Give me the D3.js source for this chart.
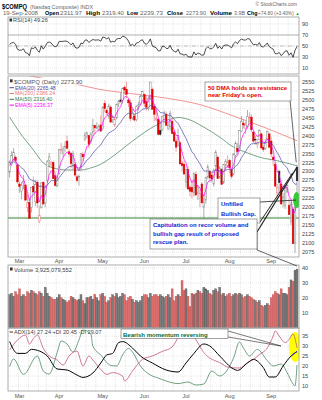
<!DOCTYPE html>
<html><head><meta charset="utf-8">
<script src="https://cdn.jsdelivr.net/npm/d3@7"></script>
<style>body{margin:0;background:#fff}svg{display:block;font-family:"Liberation Sans",Arial,sans-serif}</style>
</head><body><svg id="c" width="322" height="400"></svg>
<script>
// ---------- DATA ----------
const holidays=["2008-03-21","2008-05-26","2008-07-04","2008-09-01"];
const priorCloses=[2292,2316,2361,2326,2349,2358,2349,2390,2413,2382,2309,2278,2293,2304,2320,2321,2373,2332,2321,2306,2327,2300,2303];
const opens=[2298,2320,2334,2340,2318,2265,2245,2268,2262,2200,2214,2200,2258,2216,2270,2160,2200,2270,2212,2275,2330,2320,2325,2288,2260,
2295,2360,2350,2370,2385,2355,2350,2315,2320,2285,2285,2305,2348,2390,2398,2400,2385,2410,2428,2420,2418,2430,
2420,2490,2470,2455,2480,2445,2430,2450,2490,2500,2498,2535,2530,2500,2492,2450,2455,2445,2485,2488,2512,
2515,2495,2475,2505,2530,2482,2445,2445,2415,2418,2440,2460,2420,2425,2440,2410,2385,2372,2380,2322,2320,
2270,2305,2255,2255,2240,2292,2240,2225,2265,2200,2220,2285,2300,2290,2265,2315,2340,2285,2305,2270,2320,2315,
2330,2305,2295,2345,2365,2360,2412,2435,2420,2425,2450,2452,2410,2390,2375,2390,2405,2368,2365,2390,2405,
2385,2340,2320,2240,2300,2265,2215,2205,2245,2205,2160,2195,2100,2312];
const highs=[2331,2357,2365,2345,2322,2272,2270,2290,2265,2236,2227,2255,2286,2277,2275,2205,2269,2272,2262,2332,2352,2330,2330,2300,2290,
2363,2380,2372,2385,2400,2362,2355,2358,2325,2292,2292,2352,2355,2410,2412,2402,2410,2447,2430,2437,2432,2457,
2482,2499,2475,2490,2485,2458,2452,2490,2500,2520,2534,2540,2551,2505,2500,2475,2460,2485,2495,2515,2526,
2518,2510,2512,2551,2535,2490,2470,2450,2440,2456,2470,2468,2435,2470,2448,2415,2395,2420,2385,2330,2330,
2306,2315,2262,2275,2297,2300,2262,2250,2270,2235,2285,2320,2305,2295,2308,2360,2345,2315,2310,2320,2335,2345,
2335,2310,2350,2385,2380,2416,2455,2445,2440,2472,2465,2460,2415,2400,2390,2418,2408,2375,2390,2415,2408,
2398,2345,2325,2265,2305,2275,2240,2260,2265,2225,2215,2200,2214,2319];
const lows=[2283,2315,2330,2320,2266,2240,2222,2250,2218,2187,2168,2185,2240,2203,2198,2155,2196,2209,2200,2270,2312,2310,2280,2258,2255,
2290,2350,2340,2355,2362,2340,2310,2305,2285,2270,2260,2302,2330,2385,2392,2365,2380,2400,2405,2418,2412,2410,
2415,2465,2458,2448,2438,2435,2425,2445,2480,2492,2490,2515,2505,2480,2440,2445,2440,2440,2470,2485,2508,
2480,2470,2470,2500,2474,2440,2440,2402,2400,2412,2435,2428,2415,2415,2405,2383,2355,2370,2320,2300,2290,
2255,2250,2230,2225,2230,2234,2220,2200,2212,2167,2210,2278,2270,2270,2258,2310,2278,2280,2262,2265,2305,2310,
2295,2280,2290,2340,2350,2355,2410,2420,2405,2420,2440,2410,2380,2375,2365,2388,2362,2355,2360,2388,2365,
2340,2315,2258,2220,2240,2208,2200,2195,2240,2179,2150,2097,2072,2240];
const closes=[2327,2344,2353,2331,2271,2258,2260,2272,2220,2212,2169,2255,2243,2263,2212,2177,2268,2209,2258,2327,2341,2324,2280,2261,2279,
2362,2361,2363,2370,2365,2349,2322,2351,2290,2275,2286,2350,2341,2402,2408,2376,2405,2429,2422,2424,2426,2413,
2480,2476,2464,2483,2438,2451,2445,2488,2495,2496,2533,2528,2516,2492,2448,2464,2444,2481,2486,2509,2523,
2491,2480,2503,2550,2474,2460,2448,2404,2404,2454,2457,2429,2429,2462,2406,2385,2368,2401,2321,2316,2293,
2305,2251,2245,2243,2294,2234,2257,2239,2212,2215,2284,2313,2282,2279,2304,2354,2280,2310,2264,2319,2329,2326,
2310,2286,2349,2378,2356,2414,2440,2430,2429,2453,2452,2417,2385,2389,2380,2414,2366,2361,2382,2412,2368,
2349,2333,2259,2255,2269,2209,2228,2258,2261,2179,2207,2098,2199,2274];
const volumes=[22,23,21,24,22,26,21,22,21,24,23,25,24,23,22,24,23,21,27,23,21,20,19,19,20,
22,20,19,18,17,18,21,20,19,18,19,22,18,16,20,20,21,19,22,20,18,22,
23,21,17,18,20,22,21,23,20,21,23,22,18,20,21,19,17,18,17,18,21,
22,22,20,23,21,22,22,21,22,21,20,21,22,20,26,18,21,22,21,31.5,25,
26,21,14,23,22,23,25,24,23,27,26,25,23,22,25,26,24,27,22,23,21,22,
23,21,22,23,22,23,22,20,21,22,21,20,19,18,17,18,15,14,15,16,15,
20,22,24,23,22,26,23,23,22,27,32,31,38.5,39.25];
const ma50Pts=[[0,2452],[5,2410],[12,2360],[17,2324],[22,2310],[29,2304],[36,2304],[41,2310],[46,2320],[51,2338],[62,2385],[71,2420],[76,2435],[85,2451],[90,2446],[98,2424],[106,2396],[113,2368],[120,2352],[126,2340],[135,2330],[145,2316]];
const ma200Pts=[[0,2580],[17,2560],[33,2545],[45,2530],[61,2518],[78,2506],[96,2487],[113,2455],[130,2420],[145,2386]];
const adxPts=[[0,32.2],[4,26.3],[8,26.3],[11,28.3],[15,27.5],[19,25],[24,18.5],[29,18],[34,15.5],[37,14.3],[42,16.5],[46,21.5],[49,25.5],[52,26.3],[55,31.7],[57,32.2],[62,29],[66,25],[72,21.5],[79,18],[85,17],[89,21.5],[93,26.3],[98,31],[101,30],[106,25],[113,18.5],[115,17.8],[120,21.5],[123,23.3],[128,19.2],[131,14.5],[134,14.5],[138,20],[142,25],[145,27.24]];
const plusDiPts=[[0,19.7],[2,23.5],[7,15.8],[14,25],[17,17.5],[20,16],[24,26.7],[26,32.5],[29,31],[32,27],[35,33],[37,38],[41,36],[42,30],[46,25.5],[51,20.3],[54,20],[57,25.5],[60,28.8],[62,27],[66,20],[71,15.5],[75,14],[79,12.5],[85,11.2],[90,12],[94,10.5],[98,11],[102,17.5],[106,15],[113,24],[116,32],[118,29],[121,25],[125,28.3],[130,22.7],[133,20],[137,21],[140,16.7],[143,11],[144,10],[145,20.45]];
const minusDiPts=[[0,28],[4,33],[8,35.5],[10,31],[12,33.7],[14,35.5],[17,28.8],[20,25],[24,23],[27,20.5],[30,25],[34,27.5],[37,20],[40,25],[42,23],[46,18.3],[49,15.8],[52,16.7],[57,15],[58,12.5],[62,17.5],[67,23.3],[72,25],[77,27.3],[82,29.5],[86,35.8],[87,37],[89,34],[91,36.7],[95,31.5],[98,26.7],[101,24],[106,21.7],[111,19.2],[116,19],[120,21.7],[123,23.3],[126,25.7],[130,29],[133,35],[134,37.5],[136,35],[139,31.7],[141,33.3],[143,36],[145,29.07]];
const priceTicks=[2075,2100,2125,2150,2175,2200,2225,2250,2275,2300,2325,2350,2375,2400,2425,2450,2475,2500,2525,2550];
const rsiTicks=[90,70,50,30,10];
const volTicks=[10,20,30,40];
const adxTicks=[10,15,20,25,30,35];
const monthNames=["Mar","Apr","May","Jun","Jul","Aug","Sep"];
const supportLevel=2170, gapLevel=2220;

// ---------- DATES ----------
const fmt=d3.timeFormat("%Y-%m-%d");
const dates=d3.timeDay.range(new Date(2008,1,25),new Date(2008,8,20)).filter(d=>d.getDay()%6!==0&&!holidays.includes(fmt(d)));

// ---------- SCALES ----------
const svg=d3.select("#c");
const L=8,R=299;
const x=d3.scaleLinear().domain([0,dates.length-1]).range([9.6,297]);
const yR=d3.scaleLinear().domain([0,100]).range([73.5,18.5]);
const yP=d3.scaleLinear().domain([2058,2567]).range([258,76]);
const yV=d3.scaleLinear().domain([0,42.5]).range([327.5,264.3]);
const yA=d3.scaleLinear().domain([7,39]).range([392,328]);
const panels={rsi:[17,74],price:[76,257],vol:[265,328],adx:[328,391]};
const defs=svg.append("defs");
Object.entries(panels).forEach(([k,[t,b]])=>defs.append("clipPath").attr("id","cl-"+k).append("rect").attr("x",L).attr("y",t).attr("width",R-L).attr("height",b-t));

const weekStarts=dates.map((d,i)=>i).filter(i=>i>0&&dates[i].getDay()<dates[i-1].getDay());
const monthStarts=dates.map((d,i)=>i).filter(i=>i>0&&dates[i].getMonth()!==dates[i-1].getMonth());

function grid(key,scale,ticks){
  const [t,b]=panels[key];
  const g=svg.append("g");
  g.selectAll(".v").data(weekStarts).join("line").attr("x1",i=>x(i)-1).attr("x2",i=>x(i)-1).attr("y1",t).attr("y2",b).attr("stroke","#ccc").attr("stroke-width",0.5).attr("stroke-dasharray","1,1");
  g.selectAll(".h").data(ticks).join("line").attr("x1",L).attr("x2",R).attr("y1",v=>scale(v)).attr("y2",v=>scale(v)).attr("stroke","#ccc").attr("stroke-width",0.5).attr("stroke-dasharray","1,1");
  g.selectAll("text").data(ticks).join("text").attr("x",R+3).attr("y",v=>scale(v)+2).text(v=>v).attr("font-size",5.6).attr("fill","#444");
}
function frame(key){const [t,b]=panels[key];svg.append("rect").attr("x",L).attr("y",t).attr("width",R-L).attr("height",b-t).attr("fill","none").attr("stroke","#999").attr("stroke-width",0.8);}

// ---------- HEADER ----------
svg.append("text").attr("x",2).attr("y",8.5).attr("font-size",7).attr("font-weight","bold").attr("textLength",25).attr("lengthAdjust","spacingAndGlyphs").text("$COMPQ");
svg.append("text").attr("x",30).attr("y",8.5).attr("font-size",5.4).attr("fill","#666").attr("textLength",63).attr("lengthAdjust","spacingAndGlyphs").text("(Nasdaq Composite) INDX");
svg.append("text").attr("x",297).attr("y",6.3).attr("text-anchor","end").attr("font-size",4.8).attr("fill","#666").text("© StockCharts.com");
[["19-Sep-2008",3,35,0],["Open",45,14,1],["2311.97",60,22,0],["High",86,14,1],["2319.40",102,22,0],["Low",127,11,1],["2239.73",140,23,0],["Close",167,16,1],["2273.90",186,20,0],["Volume",210,22,1],["3.9B",234,11,0]]
 .forEach(([s,px,w,b])=>svg.append("text").attr("x",px).attr("y",15).attr("font-size",5.8).attr("textLength",w).attr("lengthAdjust","spacingAndGlyphs")
   .attr("font-weight",b?"bold":"normal").attr("fill",b?"#000":"#666").text(s));
svg.append("text").attr("x",247).attr("y",15).attr("font-size",5.4).attr("font-weight","bold").text("Chg");
svg.append("text").attr("x",258).attr("y",15).attr("font-size",4.8).attr("fill","#666").text("+74.80 (+3.40%)");
svg.append("text").attr("x",295.5).attr("y",14.8).attr("font-size",4).attr("fill","#0a0").text("▲");

// ---------- RSI ----------
function emaCalc(arr,n){const k=2/(n+1);let e=arr[0];return arr.map((v,i)=>i?(e=v*k+e*(1-k)):e);}
function rsiCalc(arr,n){const out=arr.map(()=>null);let g=0,l=0;for(let i=1;i<=n;i++){const d=arr[i]-arr[i-1];if(d>0)g+=d;else l-=d;}g/=n;l/=n;out[n]=100-100/(1+g/l);
  for(let i=n+1;i<arr.length;i++){const d=arr[i]-arr[i-1];g=(g*(n-1)+Math.max(d,0))/n;l=(l*(n-1)+Math.max(-d,0))/n;out[i]=100-100/(1+g/l);}return out;}
const allC=priorCloses.concat(closes);
const off=priorCloses.length;
const rsi=rsiCalc(allC,14).slice(off);
const ema20=emaCalc(allC,20).slice(off);
const ema5=emaCalc(allC,5).slice(off);

grid("rsi",yR,rsiTicks);
[70,30].forEach(v=>svg.append("line").attr("x1",L).attr("x2",R).attr("y1",yR(v)).attr("y2",yR(v)).attr("stroke","#999").attr("stroke-width",0.7));
svg.append("line").attr("x1",L).attr("x2",R).attr("y1",yR(50)).attr("y2",yR(50)).attr("stroke","#999").attr("stroke-width",0.6).attr("stroke-dasharray","4,1.5,1,1.5");
svg.append("path").attr("clip-path","url(#cl-rsi)").attr("d",d3.line().x((d,i)=>x(i)).y(d=>yR(d))(rsi)).attr("fill","none").attr("stroke","#000").attr("stroke-width",0.7);
frame("rsi");
svg.append("rect").attr("x",9.5).attr("y",18.5).attr("width",2.6).attr("height",3).attr("fill","#333");
svg.append("text").attr("x",13).attr("y",22).attr("font-size",5.6).attr("fill","#444").text("RSI(14) 49.26");

// ---------- PRICE ----------
grid("price",yP,priceTicks);
const pg=svg.append("g").attr("clip-path","url(#cl-price)");
pg.append("line").attr("x1",L).attr("x2",R).attr("y1",yP(supportLevel)).attr("y2",yP(supportLevel)).attr("stroke","#2f8a2f").attr("stroke-width",1.1);
const maLine=d3.line().x(d=>x(d[0])).y(d=>yP(d[1])).curve(d3.curveMonotoneX);
pg.append("path").attr("d",maLine(ma200Pts)).attr("fill","none").attr("stroke","#f07878").attr("stroke-width",0.8);
pg.append("path").attr("d",maLine(ma50Pts)).attr("fill","none").attr("stroke","#3f7f4f").attr("stroke-width",0.7);
const cand=closes.map((c,i)=>({i,o:opens[i],h:highs[i],l:lows[i],c,prev:i?closes[i-1]:priorCloses[off-1]}));
const cg=pg.append("g");
cand.forEach(d=>{
  const col=d.c<d.prev?"#e00000":"#222";
  cg.append("line").attr("x1",x(d.i)).attr("x2",x(d.i)).attr("y1",yP(d.h)).attr("y2",yP(d.l)).attr("stroke",d.c<d.prev?"#e66":"#777").attr("stroke-width",0.6);
  const top=yP(Math.max(d.o,d.c)),bot=yP(Math.min(d.o,d.c));
  cg.append("rect").attr("x",x(d.i)-0.8).attr("width",1.6).attr("y",top).attr("height",Math.max(0.6,bot-top))
    .attr("fill",d.c<d.o?col:"#fff").attr("stroke",d.c<d.o?col:(d.c<d.prev?"#e77":"#888")).attr("stroke-width",0.5);
});
const eLine=d3.line().x((d,i)=>x(i)).y(d=>yP(d));
pg.append("path").attr("d",eLine(ema20)).attr("fill","none").attr("stroke","#4a4aa0").attr("stroke-width",0.7);
pg.append("path").attr("d",eLine(ema5)).attr("fill","none").attr("stroke","#f0f").attr("stroke-width",0.7);
pg.append("ellipse").attr("cx",x(144.8)).attr("cy",yP(gapLevel)).attr("rx",3.5).attr("ry",8).attr("fill","#33cc33");
frame("price");
svg.append("rect").attr("x",9).attr("y",78).attr("width",80).attr("height",6.5).attr("fill","#fff");
svg.append("rect").attr("x",10).attr("y",79.3).attr("width",2.6).attr("height",3).attr("fill","#333");
svg.append("text").attr("x",14).attr("y",83.5).attr("font-size",6).attr("fill","#555").text("$COMPQ (Daily) 2273.90");
[["EMA(20) 2265.48","#4a4aa0"],["MA(200) 2386.24","#f07878"],["MA(50) 2316.40","#3f7f4f"],["EMA(5) 2236.37","#f0f"]].forEach(([t,c],k)=>{
  const yy=89.5+k*5.8;
  svg.append("line").attr("x1",9.5).attr("x2",14).attr("y1",yy-1.8).attr("y2",yy-1.8).attr("stroke",c).attr("stroke-width",1);
  svg.append("text").attr("x",15).attr("y",yy).attr("font-size",5.2).attr("fill",c).text(t);
});
function months(yy){svg.append("g").selectAll("text").data(monthStarts.map((i,k)=>[i,monthNames[k]])).join("text").attr("x",d=>x(d[0])).attr("y",yy).attr("text-anchor","middle").attr("font-size",5.6).attr("fill","#555").text(d=>d[1]);}
months(263);

// ---------- VOLUME ----------
grid("vol",yV,volTicks);
const vg=svg.append("g").attr("clip-path","url(#cl-vol)");
vg.selectAll("rect").data(volumes).join("rect").attr("x",(d,i)=>x(i)-0.99).attr("width",1.98).attr("y",d=>yV(d)).attr("height",d=>yV(0)-yV(d))
  .attr("fill",(d,i)=>cand[i].c<cand[i].prev?"#dd6f6f":"#7c7c7c").attr("stroke",(d,i)=>cand[i].c<cand[i].prev?"#b84545":"#4a4a4a").attr("stroke-width",0.35);
frame("vol");
svg.append("rect").attr("x",10).attr("y",267.5).attr("width",2.6).attr("height",3).attr("fill","#333");
svg.append("text").attr("x",14).attr("y",271.5).attr("font-size",5.8).attr("fill","#444").text("Volume 3,925,079,552");

// ---------- ADX ----------
grid("adx",yA,adxTicks);
const ag=svg.append("g").attr("clip-path","url(#cl-adx)");
ag.append("ellipse").attr("cx",x(144)).attr("cy",yA(29.5)).attr("rx",6).attr("ry",15).attr("fill","#ffff00");
const aLine=d3.line().x(d=>x(d[0])).y(d=>yA(d[1])).curve(d3.curveMonotoneX);
ag.append("path").attr("d",aLine(plusDiPts)).attr("fill","none").attr("stroke","#4a8a5f").attr("stroke-width",0.8);
ag.append("path").attr("d",aLine(minusDiPts)).attr("fill","none").attr("stroke","#c4557a").attr("stroke-width",0.8);
ag.append("path").attr("d",aLine(adxPts)).attr("fill","none").attr("stroke","#000").attr("stroke-width",1);
ag.append("path").attr("d",aLine(adxPts.filter(d=>d[0]>=142))).attr("fill","none").attr("stroke","#2a2aff").attr("stroke-width",1);
frame("adx");
svg.append("line").attr("x1",9.5).attr("x2",13).attr("y1",332).attr("y2",332).attr("stroke","#333").attr("stroke-width",1);
svg.append("text").attr("x",14).attr("y",334).attr("font-size",5.6).attr("fill","#444").text("ADX(14) 27.24 +DI 20.45 -DI 29.07");
months(397.5);

// ---------- ANNOTATIONS ----------
const an=svg.append("g");
function line(x1,y1,x2,y2,w,c){an.append("line").attr("x1",x1).attr("y1",y1).attr("x2",x2).attr("y2",y2).attr("stroke",c||"#222").attr("stroke-width",w||0.7);}
function box(bx,by,bw,bh){an.append("rect").attr("x",bx).attr("y",by).attr("width",bw).attr("height",bh).attr("fill","#fff").attr("stroke","#666").attr("stroke-width",0.6);}
function txt(tx,ty,s,c){an.append("text").attr("x",tx).attr("y",ty).attr("font-size",6).attr("font-weight","bold").attr("fill",c).text(s);}
line(290,100,x(144.6),yP(2326));
box(205,82,86,19);
txt(208,89.5,"50 DMA holds as  resistance","#e00000");
txt(208,97,"near Friday's open.","#e00000");
line(260,202,x(144.5),yP(gapLevel),0.8);
line(260,222,x(142.8),yP(2296),1);
line(257,232,x(145),yP(2312),1.2);
box(218,198,42,25);
txt(221,206,"Unfilled","#1a1acc");
txt(221,215.5,"Bullish Gap.","#1a1acc");
line(257,232,257,250);
line(257,250,x(145),266);
box(150,219,107,30);
txt(153,227,"Capitulation on recor volume and","#1a1acc");
txt(153,235.5,"bullish gap result of proposed","#1a1acc");
txt(153,244,"rescue plan.","#1a1acc");
line(228,331,281,346,0.6);
line(228,337,281,346,0.6);
box(121,329,107,9.5);
txt(123,336.5,"Bearish momentum reversing","#006b3c");
</script></body></html>
